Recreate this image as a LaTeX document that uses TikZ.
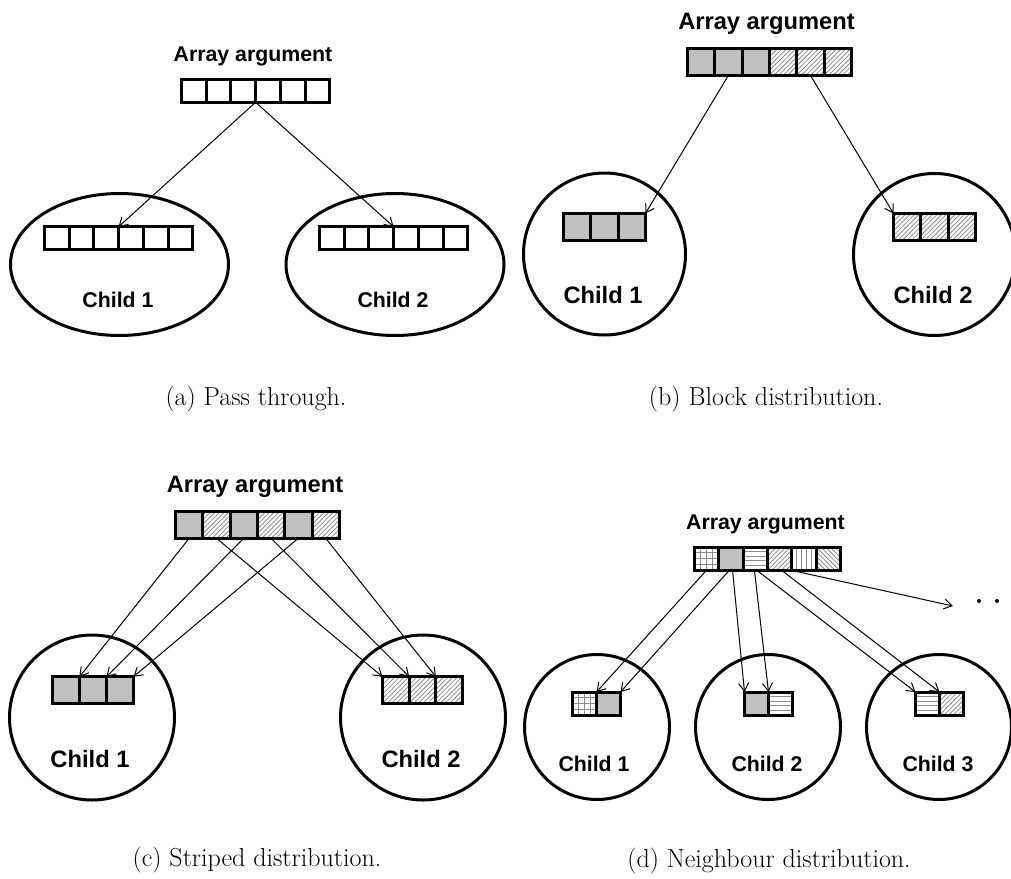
\documentclass[tikz,border=0pt]{standalone}
\usepackage{fontspec}
\newfontfamily\labfont{Liberation Sans}
\usetikzlibrary{arrows.meta,shapes.geometric}
\definecolor{cellgray}{RGB}{192,192,192}
\begin{document}
\begin{tikzpicture}[x=1pt,y=-1pt,
  cell/.style 2 args={draw, line width=3pt, minimum width=#1, minimum height=#2,
    inner sep=0pt, outer sep=0pt},
  blob/.style={draw, line width=3pt, inner sep=0pt, outer sep=0pt},
  hl/.style={draw=black!45, line width=0.8pt},
  plain/.style={fill=white},
  gfill/.style={fill=cellgray},
  hne/.style={fill=white, path picture={
    \foreach \k in {-9,...,9}
      \draw[hl] ([xshift=\k*4.6pt]path picture bounding box.south west) -- ++(40pt,40pt);}},
  hnw/.style={fill=white, path picture={
    \foreach \k in {-9,...,9}
      \draw[hl] ([xshift=\k*4.6pt]path picture bounding box.north west) -- ++(40pt,-40pt);}},
  hh/.style={fill=white, path picture={
    \foreach \k in {1,...,4}
      \draw[hl] ([yshift=\k*4.7pt]path picture bounding box.south west) -- ++(40pt,0pt);}},
  hv/.style={fill=white, path picture={
    \foreach \k in {1,...,4}
      \draw[hl] ([xshift=\k*4.9pt]path picture bounding box.south west) -- ++(0pt,40pt);}},
  hgrid/.style={fill=white, path picture={
    \foreach \k in {1,...,3}{
      \draw[hl] ([xshift=\k*6.1pt]path picture bounding box.south west) -- ++(0pt,40pt);
      \draw[hl] ([yshift=\k*5.8pt]path picture bounding box.south west) -- ++(40pt,0pt);}}},
  arr/.style={line width=1pt, -{Straight Barb[length=8pt,width=10pt,line width=1pt]}},
  lblS/.style={font={\labfont\bfseries\fontsize{21.3}{24}\selectfont}, inner sep=0pt, anchor=base},
  lblL/.style={font={\labfont\bfseries\fontsize{23.7}{27}\selectfont}, inner sep=0pt, anchor=base},
  captxt/.style={font={\fontsize{26}{30}\selectfont}, inner sep=0pt, anchor=base}]
\useasboundingbox (0,0) rectangle (1011,878);

% ---------------- (a) pass through ----------------
\node[blob, ellipse, minimum width=218pt, minimum height=142pt] (a-c1) at (119.5,264.5) {};
\node[blob, ellipse, minimum width=218pt, minimum height=142pt] (a-c2) at (395,264.5) {};
\node[lblS] (a-lbl) at (253,61) {Array argument};
\foreach \i in {1,...,6}{
  \node[cell={24.7pt}{22.5pt}, plain] (a-t\i) at ({181.5+24.7*(\i-0.5)},91) {};
  \node[cell={24.7pt}{22.5pt}, plain] (a-l\i) at ({44.5+24.7*(\i-0.5)},238) {};
  \node[cell={24.7pt}{22.5pt}, plain] (a-r\i) at ({319.5+24.7*(\i-0.5)},238) {};
}
\draw[arr] (a-t3.south east) -- (a-l3.north east);
\draw[arr] (a-t3.south east) -- (a-r3.north east);
\node[lblS] (a-n1) at (118,307) {Child 1};
\node[lblS] (a-n2) at (393,307) {Child 2};
\node[captxt] (a-cap) at (256,405) {(a) Pass through.};

% ---------------- (b) block distribution ----------------
\node[blob, circle, minimum size=162pt] (b-c1) at (604.5,254) {};
\node[blob, circle, minimum size=162pt] (b-c2) at (934.5,254.5) {};
\node[lblL] (b-lbl) at (766.5,29) {Array argument};
\foreach \p [count=\i] in {gfill,gfill,gfill,hne,hne,hne}
  \node[cell={27.3pt}{26.5pt}, \p] (b-t\i) at ({687.5+27.3*(\i-0.5)},62) {};
\foreach \i in {1,2,3}{
  \node[cell={27.3pt}{26.5pt}, gfill] (b-l\i) at ({563.5+27.3*(\i-0.5)},226.75) {};
  \node[cell={27.3pt}{26.5pt}, hne] (b-r\i) at ({893.5+27.3*(\i-0.5)},226.75) {};
}
\draw[arr] (b-t2.south) -- (b-l3.north east);
\draw[arr] (b-t5.south) -- (b-r1.north west);
\node[lblL] (b-n1) at (603,303) {Child 1};
\node[lblL] (b-n2) at (933,303) {Child 2};
\node[captxt] (b-cap) at (766,405) {(b) Block distribution.};

% ---------------- (c) striped distribution ----------------
\node[blob, circle, minimum size=165pt] (c-c1) at (92,717.5) {};
\node[blob, circle, minimum size=165pt] (c-c2) at (423,717.5) {};
\node[lblL] (c-lbl) at (255,492) {Array argument};
\foreach \p [count=\i] in {gfill,hne,gfill,hne,gfill,hne}
  \node[cell={27.3pt}{26.5pt}, \p] (c-t\i) at ({175.5+27.3*(\i-0.5)},525) {};
\foreach \i in {1,2,3}{
  \node[cell={27pt}{26.5pt}, gfill] (c-l\i) at ({52.5+27*(\i-0.5)},690) {};
  \node[cell={26.7pt}{26.5pt}, hne] (c-r\i) at ({382.5+26.7*(\i-0.5)},690) {};
}
\draw[arr] (c-t1.south) -- (c-l1.north east);
\draw[arr] (c-t3.south) -- (c-l2.north east);
\draw[arr] (c-t5.south) -- (c-l3.north east);
\draw[arr] (c-t2.south) -- (c-r1.north west);
\draw[arr] (c-t4.south) -- (c-r2.north west);
\draw[arr] (c-t6.south) -- (c-r3.north west);
\node[lblL] (c-n1) at (90,767) {Child 1};
\node[lblL] (c-n2) at (421,767) {Child 2};
\node[captxt] (c-cap) at (257,866) {(c) Striped distribution.};

% ---------------- (d) neighbour distribution ----------------
\node[blob, circle, minimum size=145pt] (d-c1) at (597,727) {};
\node[blob, circle, minimum size=145pt] (d-c2) at (768,727) {};
\node[blob, circle, minimum size=145pt] (d-c3) at (939,727) {};
\node[lblS] (d-lbl) at (765.5,529) {Array argument};
\foreach \p [count=\i] in {hgrid,gfill,hh,hne,hv,hnw}
  \node[cell={24.35pt}{23pt}, \p] (d-t\i) at ({694.5+24.35*(\i-0.5)},558.5) {};
\node[cell={24pt}{23pt}, hgrid] (d-a1) at (584.5,703.5) {};
\node[cell={24pt}{23pt}, gfill] (d-a2) at (608.5,703.5) {};
\node[cell={24pt}{23pt}, gfill] (d-b1) at (756.5,703.5) {};
\node[cell={24pt}{23pt}, hh]    (d-b2) at (780.5,703.5) {};
\node[cell={24pt}{23pt}, hh]    (d-e1) at (927.5,703.5) {};
\node[cell={24pt}{23pt}, hne]   (d-e2) at (951.5,703.5) {};
\coordinate (d-more) at (953,606);
\draw[arr] (d-t1.south) -- (d-a1.north east);
\draw[arr] ([xshift=-1.5pt]d-t2.south) -- (d-a2.north east);
\draw[arr] ([xshift=1.5pt]d-t2.south) -- (d-b1.north west);
\draw[arr] ([xshift=-1pt]d-t3.south) -- (d-b2.north west);
\draw[arr] ([xshift=1pt]d-t3.south) -- (d-e1.north west);
\draw[arr] ([xshift=1.5pt]d-t4.south) -- (d-e2.north west);
\draw[arr] ([xshift=-2pt]d-t4.south east) -- (d-more);
\fill (979,601) circle (2pt) (997,601) circle (2pt);
\node[lblS] (d-n1) at (594,771) {Child 1};
\node[lblS] (d-n2) at (767,771) {Child 2};
\node[lblS] (d-n3) at (938,771) {Child 3};
\node[captxt] (d-cap) at (769,867) {(d) Neighbour distribution.};
\end{tikzpicture}
\end{document}
